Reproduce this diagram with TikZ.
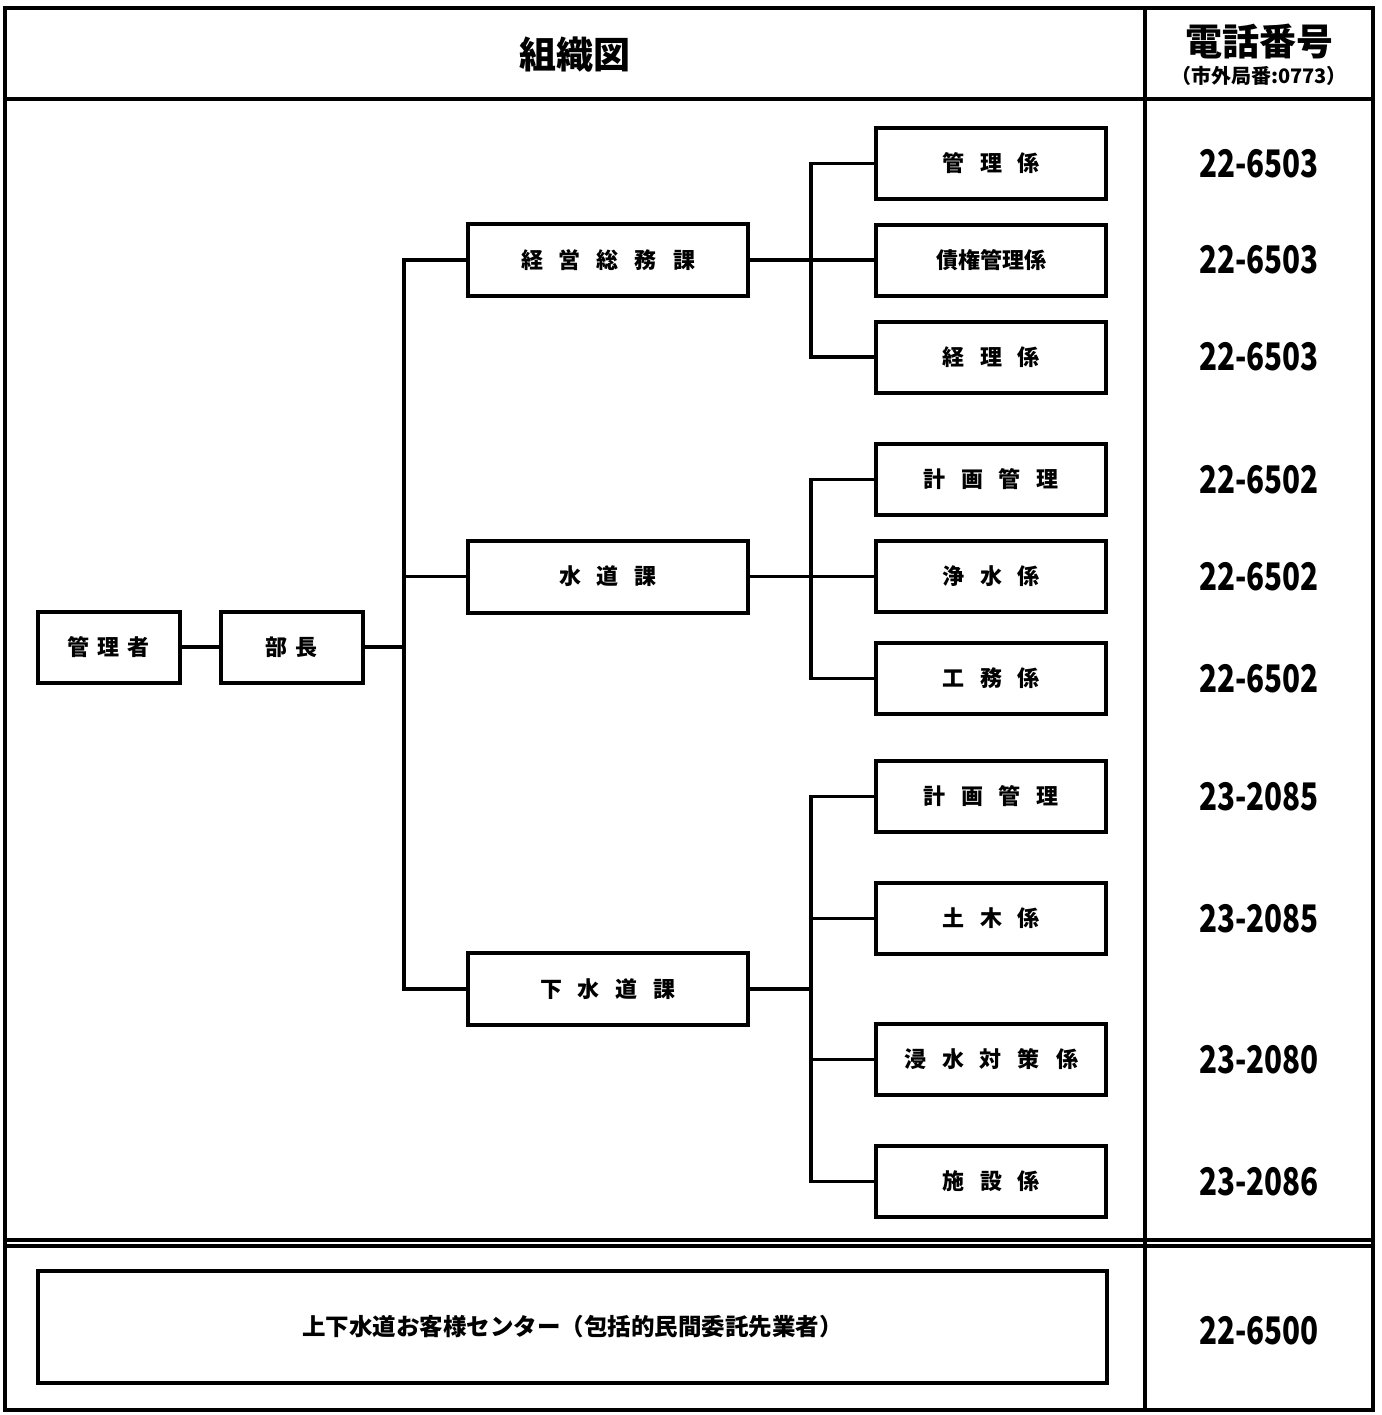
\documentclass[tikz,border=0pt]{standalone}
\usepackage{fontspec}
\usepackage{graphicx}
\setmainfont{Noto Sans CJK JP}
\newcommand\gapA{\hspace{8pt}}
\newcommand\gapB{\hspace{4pt}}
\newcommand\phonetext[1]{\scalebox{0.78}[1]{#1}}
\tikzset{
  frame/.style={line width=2.2pt},
  conn/.style={line width=1.8pt, line join=miter},
  orgbox/.style={draw, line width=2pt, inner sep=0pt, font=\fontsize{11pt}{11pt}\selectfont\bfseries},
  leftbox/.style={orgbox, minimum width=71pt, minimum height=35.5pt},
  midbox/.style={orgbox, minimum width=140pt, minimum height=36pt},
  rightbox/.style={orgbox, minimum width=115pt, minimum height=35.5pt},
  phone/.style={inner sep=0pt, font=\fontsize{19pt}{19pt}\selectfont\bfseries},
}
\begin{document}
\begin{tikzpicture}[x=0.5pt,y=-0.5pt]
\useasboundingbox (0,0) rectangle (1382,1415);
% frame
\draw[frame] (5,8) rectangle (1373,1410);
\draw[frame] (5,99) -- (1373,99);
\draw[frame] (1145,8) -- (1145,1410);
\draw[line width=1.6pt] (5,1240) -- (1373,1240);
\draw[line width=1.6pt] (5,1246) -- (1373,1246);
% headers
\node[inner sep=0pt, font=\fontsize{18.5pt}{18.5pt}\selectfont\bfseries] (title) at (575,55) {組織図};
\node[inner sep=0pt, font=\fontsize{18.5pt}{18.5pt}\selectfont\bfseries] (telhead) at (1259,42) {電話番号};
\node[inner sep=0pt, font=\fontsize{10pt}{10pt}\selectfont\bfseries] (telsub) at (1259,76) {（市外局番:0773）};
% left boxes
\node[leftbox] (kanri) at (109,647) {管\gapB 理\gapB 者};
\node[leftbox] (bucho) at (291.5,647) {部\gapB 長};
% mid boxes
\node[midbox] (keiei) at (608,260) {経\gapA 営\gapA 総\gapA 務\gapA 課};
\node[midbox] (suido) at (608,576.5) {水\gapA 道\gapA 課};
\node[midbox] (gesui) at (608,989) {下\gapA 水\gapA 道\gapA 課};
% right boxes
\node[rightbox] (r1) at (991,163.5) {管\gapA 理\gapA 係};
\node[rightbox] (r2) at (991,260) {債権管理係};
\node[rightbox] (r3) at (991,357) {経\gapA 理\gapA 係};
\node[rightbox] (r4) at (991,479.5) {計\gapA 画\gapA 管\gapA 理};
\node[rightbox] (r5) at (991,576.5) {浄\gapA 水\gapA 係};
\node[rightbox] (r6) at (991,678.5) {工\gapA 務\gapA 係};
\node[rightbox] (r7) at (991,796.5) {計\gapA 画\gapA 管\gapA 理};
\node[rightbox] (r8) at (991,918.5) {土\gapA 木\gapA 係};
\node[rightbox] (r9) at (991,1059.5) {浸\gapA 水\gapA 対\gapA 策\gapA 係};
\node[rightbox] (r10) at (991,1181.5) {施\gapA 設\gapA 係};
% bottom box
\node[orgbox, minimum width=534.5pt, minimum height=56pt, font=\fontsize{11.75pt}{11.75pt}\selectfont\bfseries] (center) at (572.5,1327) {上下水道お客様センター（包括的民間委託先業者）};
% phones
\node[phone] (p1) at (1259,163.5) {\phonetext{22-6503}};
\node[phone] (p2) at (1259,260) {\phonetext{22-6503}};
\node[phone] (p3) at (1259,357) {\phonetext{22-6503}};
\node[phone] (p4) at (1259,479.5) {\phonetext{22-6502}};
\node[phone] (p5) at (1259,576.5) {\phonetext{22-6502}};
\node[phone] (p6) at (1259,678.5) {\phonetext{22-6502}};
\node[phone] (p7) at (1259,796.5) {\phonetext{23-2085}};
\node[phone] (p8) at (1259,918.5) {\phonetext{23-2085}};
\node[phone] (p9) at (1259,1059.5) {\phonetext{23-2080}};
\node[phone] (p10) at (1259,1181.5) {\phonetext{23-2086}};
\node[phone] (p11) at (1259,1331) {\phonetext{22-6500}};
% trunk coordinates
\coordinate (tx) at (404,0);
\coordinate (sx) at (811,0);
% connectors
\draw[conn] (kanri.east) -- (bucho.west);
\draw[conn] (bucho.east) -- (bucho.east -| tx);
\draw[conn] (keiei.west) -- (keiei.west -| tx) -- (gesui.west -| tx) -- (gesui.west);
\draw[conn] (suido.west) -- (suido.west -| tx);
% group 1
\draw[conn] (keiei.east) -- (r2.west);
\draw[conn] (r1.west) -- (r1.west -| sx) -- (r3.west -| sx) -- (r3.west);
% group 2
\draw[conn] (suido.east) -- (r5.west);
\draw[conn] (r4.west) -- (r4.west -| sx) -- (r6.west -| sx) -- (r6.west);
% group 3
\draw[conn] (gesui.east) -- (gesui.east -| sx);
\draw[conn] (r7.west) -- (r7.west -| sx) -- (r10.west -| sx) -- (r10.west);
\draw[conn] (r8.west) -- (r8.west -| sx);
\draw[conn] (r9.west) -- (r9.west -| sx);
\end{tikzpicture}
\end{document}
